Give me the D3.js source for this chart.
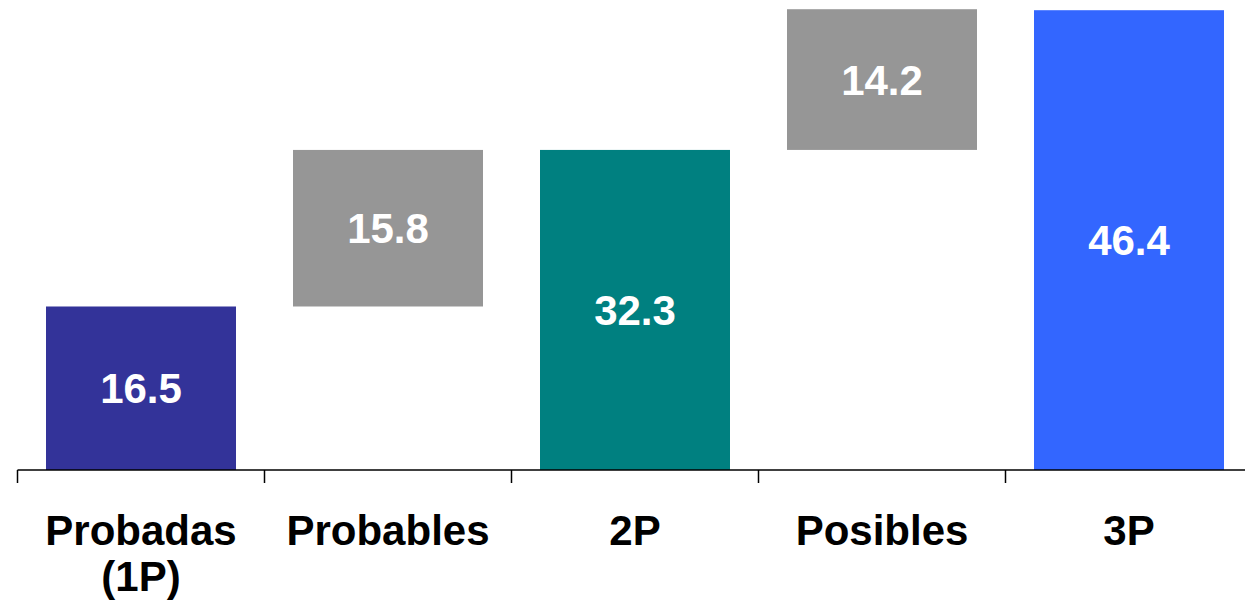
<!DOCTYPE html>
<html>
<head>
<meta charset="utf-8">
<script src="https://cdn.jsdelivr.net/npm/d3@7"></script>
<style>
  html, body { margin: 0; padding: 0; background: #ffffff; }
  svg { display: block; }
  text { font-family: "Liberation Sans", Arial, sans-serif; font-weight: bold; }
</style>
</head>
<body>
<svg id="chart" width="1245" height="606"></svg>
<script>
// ---- Data ----
const categories = ["Probadas (1P)", "Probables", "2P", "Posibles", "3P"];
const labelLines = [["Probadas", "(1P)"], ["Probables"], ["2P"], ["Posibles"], ["3P"]];
const values = [16.5, 15.8, 32.3, 14.2, 46.4];
const kinds = ["total", "delta", "total", "delta", "total"];
const colors = ["#333399", "#969696", "#008080", "#969696", "#3366FF"];

// ---- Build waterfall segments ----
let running = 0;
const segs = values.map((v, i) => {
  let lo, hi;
  if (kinds[i] === "total") { lo = 0; hi = v; running = v; }
  else { lo = running; hi = running + v; running = hi; }
  return { cat: categories[i], lines: labelLines[i], value: v, lo, hi, color: colors[i] };
});

const svg = d3.select("#chart");
const baseY = 470;
const left = 17.5, right = 1252.5;

const x = d3.scaleBand()
  .domain(categories)
  .range([left, right])
  .paddingInner(57 / 247)
  .paddingOuter(28.5 / 247);

const y = d3.scaleLinear()
  .domain([0, 47.43])
  .range([baseY, 0]);

// bars
svg.append("g").selectAll("rect")
  .data(segs)
  .join("rect")
  .attr("x", d => x(d.cat))
  .attr("width", x.bandwidth())
  .attr("y", d => y(d.hi))
  .attr("height", d => y(d.lo) - y(d.hi))
  .attr("fill", d => d.color);

// value labels
const fs = 42;
svg.append("g").selectAll("text")
  .data(segs)
  .join("text")
  .attr("x", d => x(d.cat) + x.bandwidth() / 2)
  .attr("y", d => (y(d.hi) + y(d.lo)) / 2 + fs * 0.36)
  .attr("text-anchor", "middle")
  .attr("fill", "#ffffff")
  .style("font-size", fs + "px")
  .text(d => d.value.toFixed(1));

// axis line
const step = x.step();
const gap = step * x.paddingInner() / 2;
svg.append("line")
  .attr("x1", left).attr("x2", 1245)
  .attr("y1", baseY).attr("y2", baseY)
  .attr("stroke", "#000").attr("stroke-width", 1.5);

// ticks at band boundaries
const tickXs = categories.map(c => x(c) - gap).concat([x(categories[categories.length - 1]) + x.bandwidth() + gap]);
svg.append("g").selectAll("line")
  .data(tickXs)
  .join("line")
  .attr("x1", d => d).attr("x2", d => d)
  .attr("y1", baseY).attr("y2", baseY + 13)
  .attr("stroke", "#000").attr("stroke-width", 1.5);

// category labels
const cl = svg.append("g").selectAll("text")
  .data(segs)
  .join("text")
  .attr("x", d => x(d.cat) + x.bandwidth() / 2)
  .attr("y", 545)
  .attr("text-anchor", "middle")
  .attr("fill", "#000")
  .style("font-size", fs + "px");
cl.selectAll("tspan")
  .data(d => d.lines.map(l => ({ l, cx: x(d.cat) + x.bandwidth() / 2 })))
  .join("tspan")
  .attr("x", d => d.cx)
  .attr("dy", (d, i) => i === 0 ? 0 : 46)
  .text(d => d.l);
</script>
</body>
</html>
